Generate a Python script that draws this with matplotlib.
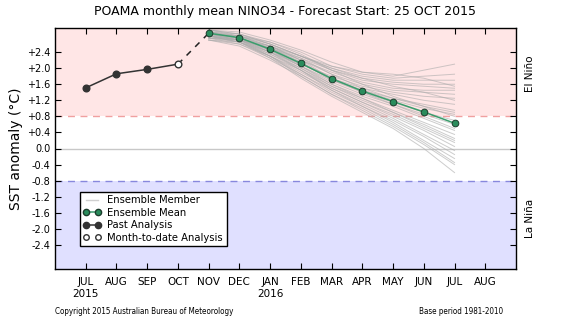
import numpy as np
import matplotlib
matplotlib.use("Agg")
import matplotlib.pyplot as plt
from matplotlib.lines import Line2D

# months: 0=JUN 2015 ... 14=AUG 2016
month_labels = ["JUL\n2015", "AUG", "SEP", "OCT", "NOV", "DEC", "JAN\n2016",
                "FEB", "MAR", "APR", "MAY", "JUN", "JUL", "AUG"]
past_x = [1, 2, 3]
past_vals = [1.51, 1.86, 1.97]
mtd_x = 4
mtd_val = 2.10
fc_x = [5, 6, 7, 8, 9, 10, 11, 12, 13]
mean_vals = [2.87, 2.76, 2.47, 2.12, 1.74, 1.43, 1.17, 0.91, 0.63]

# ensemble members (NOV .. JUL)
members = [
    [2.95, 2.90, 2.70, 2.45, 2.15, 1.90, 1.80, 1.95, 2.10],
    [2.90, 2.85, 2.65, 2.40, 2.05, 1.85, 1.75, 1.80, 1.85],
    [2.85, 2.80, 2.60, 2.30, 2.00, 1.80, 1.70, 1.70, 1.70],
    [2.80, 2.75, 2.55, 2.25, 1.95, 1.75, 1.65, 1.60, 1.60],
    [2.95, 2.85, 2.60, 2.30, 1.95, 1.70, 1.60, 1.55, 1.50],
    [2.75, 2.70, 2.50, 2.20, 1.90, 1.65, 1.50, 1.45, 1.45],
    [2.90, 2.80, 2.55, 2.20, 1.85, 1.60, 1.45, 1.40, 1.35],
    [2.85, 2.75, 2.45, 2.10, 1.80, 1.55, 1.40, 1.30, 1.25],
    [2.70, 2.65, 2.40, 2.10, 1.75, 1.50, 1.35, 1.20, 1.10],
    [2.80, 2.70, 2.45, 2.05, 1.70, 1.45, 1.25, 1.10, 0.95],
    [2.95, 2.80, 2.50, 2.15, 1.75, 1.45, 1.20, 1.00, 0.85],
    [2.85, 2.75, 2.50, 2.15, 1.70, 1.40, 1.15, 0.90, 0.70],
    [2.80, 2.70, 2.40, 2.05, 1.65, 1.35, 1.10, 0.85, 0.60],
    [2.90, 2.80, 2.55, 2.20, 1.75, 1.40, 1.10, 0.80, 0.50],
    [2.75, 2.65, 2.35, 2.00, 1.60, 1.30, 1.05, 0.75, 0.45],
    [2.85, 2.70, 2.40, 2.00, 1.55, 1.25, 0.95, 0.65, 0.35],
    [2.80, 2.65, 2.30, 1.95, 1.55, 1.20, 0.90, 0.60, 0.25],
    [2.90, 2.75, 2.45, 2.05, 1.60, 1.25, 0.90, 0.55, 0.20],
    [2.70, 2.60, 2.30, 1.90, 1.50, 1.15, 0.85, 0.50, 0.15],
    [2.85, 2.70, 2.35, 1.95, 1.50, 1.15, 0.80, 0.45, 0.05],
    [2.80, 2.65, 2.30, 1.85, 1.45, 1.10, 0.75, 0.35, -0.05],
    [2.75, 2.60, 2.25, 1.85, 1.40, 1.05, 0.70, 0.30, -0.15],
    [2.90, 2.75, 2.40, 1.95, 1.45, 1.05, 0.65, 0.20, -0.25],
    [2.85, 2.70, 2.30, 1.80, 1.35, 1.00, 0.60, 0.15, -0.35],
    [2.70, 2.55, 2.20, 1.80, 1.35, 0.95, 0.55, 0.10, -0.40],
    [2.80, 2.65, 2.25, 1.75, 1.30, 0.90, 0.50, 0.00, -0.60],
    [2.95, 2.85, 2.60, 2.30, 2.05, 1.90, 1.85, 1.75, 1.55],
    [2.75, 2.70, 2.55, 2.30, 2.00, 1.75, 1.55, 1.40, 1.20],
    [2.85, 2.80, 2.65, 2.35, 1.95, 1.60, 1.30, 1.05, 0.80],
    [2.80, 2.70, 2.50, 2.25, 1.85, 1.50, 1.25, 1.05, 0.90],
]

yticks = [2.4, 2.0, 1.6, 1.2, 0.8, 0.4, 0.0, -0.4, -0.8, -1.2, -1.6, -2.0, -2.4]
thresh = 0.8

fig = plt.figure(figsize=(5.61, 3.21), dpi=100)
ax = fig.add_axes([55 / 561, 1 - 269 / 321, 461 / 561, 241 / 321])

ax.axhspan(thresh, 3.0, color="#ffe6e6", lw=0, zorder=0)
ax.axhspan(-3.0, -thresh, color="#e0e0ff", lw=0, zorder=0)
ax.axhline(thresh, color="#f0a0a0", ls=(0, (5, 4)), lw=1.0, zorder=1)
ax.axhline(-thresh, color="#8888dd", ls=(0, (5, 4)), lw=1.0, zorder=1)
ax.axhline(0.0, color="#c8c8c8", lw=1.0, zorder=1)

for m in members:
    ax.plot(fc_x, m, color="#ababab", lw=0.7, alpha=0.6, zorder=2)

ax.plot([mtd_x, fc_x[0]], [mtd_val, mean_vals[0]], color="#222222",
        ls=(0, (4, 4)), lw=1.1, zorder=3)
ax.plot(past_x + [mtd_x], past_vals + [mtd_val], color="#333333", lw=1.1, zorder=3)
ax.plot(past_x, past_vals, "o", color="#333333", ms=4.8, zorder=4)
ax.plot([mtd_x], [mtd_val], "o", mfc="white", mec="#333333", ms=4.8, zorder=4)
ax.plot(fc_x, mean_vals, color="#3a9d6c", lw=1.1, marker="o", ms=4.8,
        mfc="#2a8c5c", mec="#1c3c2c", mew=0.7, zorder=5)

ax.set_xlim(0, 15)
ax.set_ylim(-3, 3)
ax.set_xticks(range(1, 15))
ax.set_xticklabels(month_labels, fontsize=7.5)
ax.set_yticks(yticks)
ax.set_yticklabels(["%+.1f" % v if v != 0 else "0.0" for v in yticks], fontsize=7)
ax.tick_params(direction="in", top=True, right=True, length=4, width=0.8)
ax.tick_params(axis="x", pad=6)
for s in ax.spines.values():
    s.set_linewidth(1.0)

ax.set_ylabel("SST anomaly (°C)", fontsize=10, labelpad=3)
ax.set_title("POAMA monthly mean NINO34 - Forecast Start: 25 OCT 2015",
             fontsize=9, pad=9)

ax.text(1.03, 0.81, "El Niño", transform=ax.transAxes, rotation=90,
        ha="center", va="center", fontsize=7.5)
ax.text(1.03, 0.21, "La Niña", transform=ax.transAxes, rotation=90,
        ha="center", va="center", fontsize=7.5)

handles = [
    Line2D([], [], color="#d0d0d0", lw=1.0),
    Line2D([], [], color="#3a9d6c", lw=1.1, marker="o", ms=4.5, mfc="#2a8c5c", mec="#1c3c2c"),
    Line2D([], [], color="#333333", lw=1.1, marker="o", ms=4.5),
    Line2D([], [], ls="none", marker="o", ms=4, mfc="white", mec="#333333"),
]
labels = ["Ensemble Member", "Ensemble Mean", "Past Analysis", "Month-to-date Analysis"]
leg = ax.legend(handles, labels, loc="upper left", bbox_to_anchor=(0.054, 0.32),
                fontsize=7.2, numpoints=2, fancybox=False, framealpha=1,
                edgecolor="black", handlelength=1.8, handletextpad=0.6,
                borderpad=0.35, labelspacing=0.25, borderaxespad=0)
leg.get_frame().set_linewidth(1.0)

fig.text(55 / 561, 1 - 311 / 321, "Copyright 2015 Australian Bureau of Meteorology",
         fontsize=5.8, ha="left", va="center", fontstretch="condensed")
fig.text(503 / 561, 1 - 311 / 321, "Base period 1981-2010",
         fontsize=5.8, ha="right", va="center", fontstretch="condensed")

fig.savefig("out.png", dpi=100)
